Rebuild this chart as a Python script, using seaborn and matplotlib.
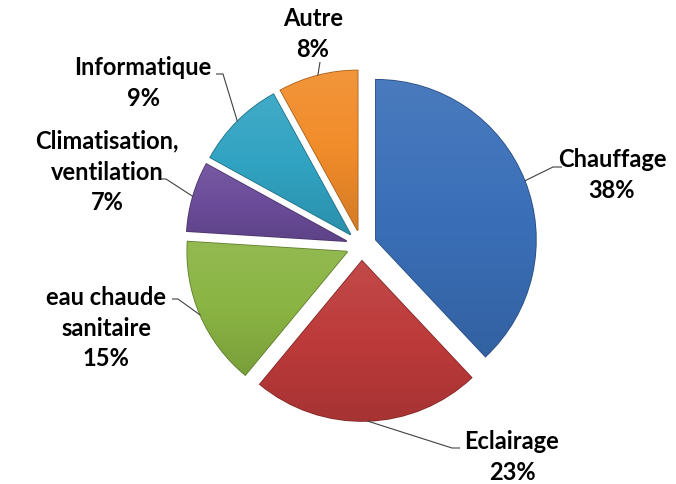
import numpy as np
import matplotlib
matplotlib.use("Agg")
import matplotlib.pyplot as plt
from matplotlib.colors import LinearSegmentedColormap, to_rgb
import seaborn as sns

# ---- data ----
categories = ["Chauffage", "Eclairage", "eau chaude\nsanitaire",
              "Climatisation,\nventilation", "Informatique", "Autre"]
values = [38, 23, 15, 7, 9, 8]
colors = ["#3A6FB8", "#BD3A3A", "#8AB443", "#6B4C9A", "#31A3C2", "#F18C2A"]

# label layout (screen pixels, y from top): text centre, knee of leader, tick end
label_pos = [(612, 175), (512, 457), (106, 328), (107, 172), (143, 83), (313, 34)]
knees = [(553, 167), (452, 448), (178, 299), (166, 179), (223, 74), (320, 62)]
ticks = [(562, 167), (460, 448), (172, 299), (159, 179), (216, 74), (320, 62)]

W, H = 676, 484
sns.set_theme(style="white")
plt.rcParams['font.family'] = ['Lato', 'DejaVu Sans']

fig = plt.figure(figsize=(W / 100, H / 100), dpi=100)
ax = fig.add_axes([0, 0, 1, 1])

cx, cy = 361.5, H - 245.5
R = 160
wedges, _ = ax.pie(values, colors=colors, startangle=90, counterclock=False,
                   explode=[15.5] * len(values), radius=R, center=(cx, cy),
                   frame=True, wedgeprops=dict(linewidth=1.2))


def mix(c, other, t):
    c = np.array(to_rgb(c)); o = np.array(to_rgb(other))
    return tuple(c * (1 - t) + o * t)


grad = np.linspace(0, 1, 256).reshape(-1, 1)
for w, col in zip(wedges, colors):
    light = mix(col, "white", 0.08)
    dark = mix(col, "black", 0.12)
    w.set_edgecolor(mix(col, "black", 0.3))
    w.set_zorder(1)
    ext = w.get_path().get_extents()
    cmap = LinearSegmentedColormap.from_list("g", [light, col, dark])
    im = ax.imshow(grad, extent=[ext.x0, ext.x1, ext.y0, ext.y1], cmap=cmap,
                   origin="upper", aspect="auto", zorder=2, interpolation="bilinear")
    im.set_clip_path(w)

for w, lab, val, lp, kn, tk in zip(wedges, categories, values, label_pos, knees, ticks):
    th = np.deg2rad((w.theta1 + w.theta2) / 2)
    px = w.center[0] + R * np.cos(th)
    py = w.center[1] + R * np.sin(th)
    ax.plot([px, kn[0], tk[0]], [py, H - kn[1], H - tk[1]], color="#404040",
            lw=0.8, zorder=3, solid_capstyle="butt")
    ax.text(lp[0], H - lp[1], f"{lab}\n{val}%", ha="center", va="center",
            fontsize=17, fontweight="bold", color="black", linespacing=1.4,
            zorder=4)

ax.set_xlim(0, W)
ax.set_ylim(0, H)
ax.set_aspect("auto")
ax.axis("off")
fig.savefig("out.png", dpi=100)
